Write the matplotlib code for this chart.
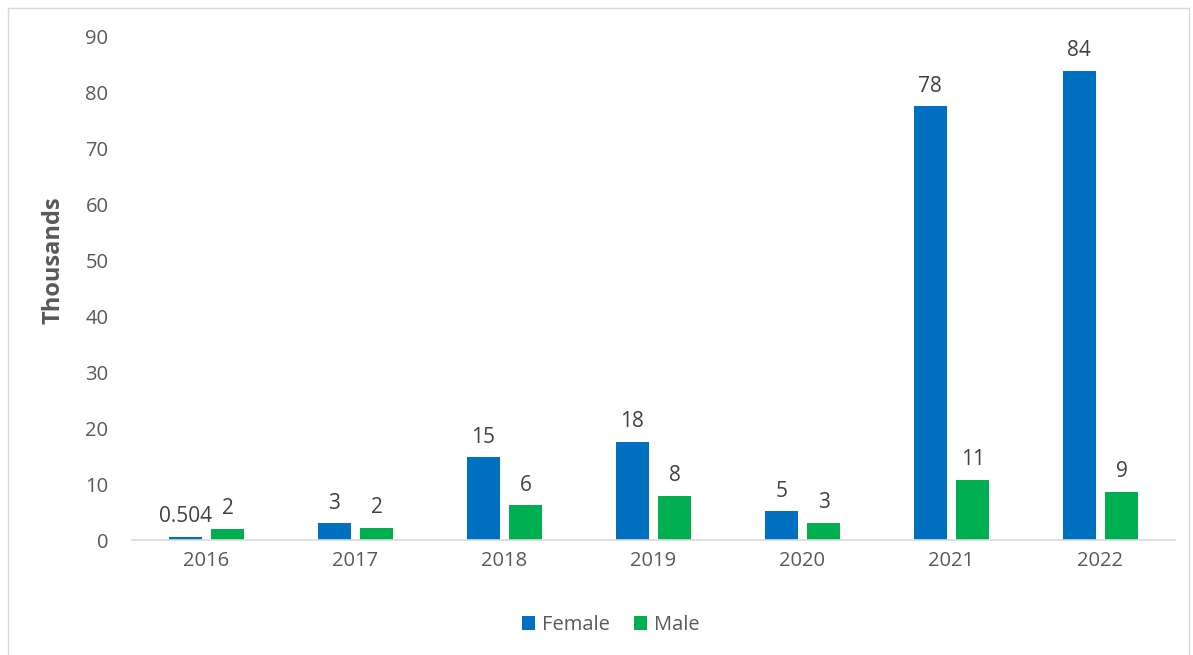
import numpy as np
import matplotlib.pyplot as plt
from matplotlib.patches import Rectangle

# ============================================================
# DATA (values in thousands)
# ============================================================
years = ["2016", "2017", "2018", "2019", "2020", "2021", "2022"]
female = [0.504, 3.0, 14.8, 17.6, 5.1, 77.6, 83.9]
male = [2.0, 2.2, 6.2, 7.9, 3.1, 10.7, 8.6]

FEMALE_COLOR = "#0070C0"
MALE_COLOR = "#00B050"
TEXT_COLOR = "#595959"
LABEL_COLOR = "#404040"

plt.rcParams["font.family"] = ["Open Sans", "DejaVu Sans"]

fig = plt.figure(figsize=(11.93, 6.55), dpi=100)
ax = fig.add_axes([132 / 1193, 1 - 540 / 655, (1175 - 132) / 1193, (540 - 37) / 655])

# light chart-area border
fig.patches.append(Rectangle((8 / 1193, -0.02), (1189 - 8) / 1193, 1 - 8 / 655 + 0.02,
                             transform=fig.transFigure, fill=False,
                             edgecolor="#D9D9D9", linewidth=1))

x = np.arange(len(years))
w = 0.223
off = 0.142

b1 = ax.bar(x - off, female, w, color=FEMALE_COLOR, label="Female")
b2 = ax.bar(x + off, male, w, color=MALE_COLOR, label="Male")


def fmt(v):
    return f"{v:.3f}" if v < 1 else f"{v:.0f}"


ax.bar_label(b1, labels=[fmt(v) for v in female], padding=7, fontsize=15, color=LABEL_COLOR)
ax.bar_label(b2, labels=[fmt(v) for v in male], padding=7, fontsize=15, color=LABEL_COLOR)

ax.set_xlim(-0.5, len(years) - 0.5)
ax.set_ylim(0, 90)
ax.set_yticks(np.arange(0, 91, 10))
ax.set_xticks(x)
ax.set_xticklabels(years)
ax.tick_params(axis="both", length=0, labelsize=14.5, labelcolor=TEXT_COLOR)
ax.tick_params(axis="y", pad=17)
ax.tick_params(axis="x", pad=8)

for s in ["top", "right", "left"]:
    ax.spines[s].set_visible(False)
ax.spines["bottom"].set_color("#D9D9D9")
ax.spines["bottom"].set_linewidth(1.2)

ax.set_ylabel("Thousands", fontsize=17, fontweight="bold", color=TEXT_COLOR)
ax.yaxis.set_label_coords((66 - 132) / 1043, (540 - 260) / 503)

fig.legend(handles=[b1, b2], labels=["Female", "Male"], loc="center",
           bbox_to_anchor=(611 / 1193, 1 - 625 / 655), ncol=2, frameon=False,
           fontsize=14.5, labelcolor=TEXT_COLOR, handlelength=0.65, handleheight=0.65,
           handletextpad=0.35, columnspacing=1.2)

fig.savefig("out.png", dpi=100)
